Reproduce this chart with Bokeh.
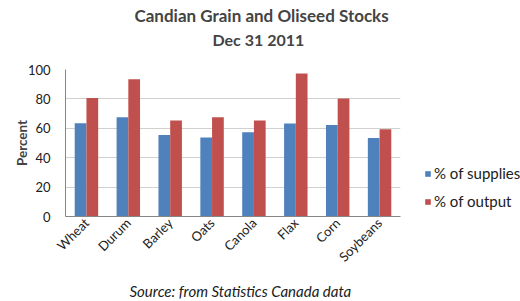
from bokeh.plotting import figure
from bokeh.models import Title, Legend, LegendItem, FactorRange
from bokeh.transform import dodge
from bokeh.embed import file_html
from bokeh.resources import INLINE
from math import pi

categories = ["Wheat", "Durum", "Barley", "Oats", "Canola", "Flax", "Corn", "Soybeans"]
supplies = [63.5, 67.5, 55.5, 53.7, 57.3, 63.2, 62.3, 53.4]
output = [80.6, 93.4, 65.3, 67.6, 65.3, 97.3, 80.2, 59.3]
series_names = ["% of supplies", "% of output"]
y_ticks = [0, 20, 40, 60, 80, 100]

BLUE = "#4F81BD"
RED = "#C0504D"
FONT = "Lato"

p = figure(frame_width=335, frame_height=147, x_range=FactorRange(*categories, range_padding=0),
           y_range=(0, 100), output_backend="svg", toolbar_location=None,
           min_border_left=0, min_border_right=0, min_border_top=0, min_border_bottom=0)
p.outline_line_color = None
p.background_fill_color = "white"

src = dict(cat=categories, sup=supplies, out=output)
r1 = p.vbar(x=dodge("cat", -0.14, range=p.x_range), top="sup", width=0.28, source=src,
            fill_color=BLUE, line_color=None)
r2 = p.vbar(x=dodge("cat", 0.14, range=p.x_range), top="out", width=0.28, source=src,
            fill_color=RED, line_color=None)

# titles: p.title is outermost; "above" list items go from the plot outward
p.title.text = "Candian Grain and Oliseed Stocks"
p.title.text_font = FONT
p.title.text_font_size = "17px"
p.title.text_font_style = "bold"
p.title.align = "left"
p.title.offset = 69
p.title.standoff = 3.5
spacer = Title(text=" ", text_font=FONT, text_font_size="10px", standoff=6.7)
p.add_layout(spacer, "above")
t2 = Title(text="Dec 31 2011", text_font=FONT, text_font_size="16px",
           text_font_style="bold", align="left", offset=147, standoff=0)
p.add_layout(t2, "above")

src_title = Title(text="Source: from Statistics Canada data", text_font=FONT,
                  text_font_size="15px", text_font_style="italic", align="left",
                  offset=64, standoff=12, text_color="#202020")
p.add_layout(src_title, "below")

# axes
p.yaxis.ticker = y_ticks
p.yaxis.axis_label = "Percent"
p.yaxis.axis_label_text_font = FONT
p.yaxis.axis_label_text_font_size = "13.5px"
p.yaxis.axis_label_text_font_style = "bold"
p.yaxis.axis_label_standoff = -5
p.yaxis.major_label_text_font = FONT
p.yaxis.major_label_text_font_size = "13px"
p.yaxis.major_label_text_color = "#202020"
p.yaxis.axis_line_color = "#868686"
p.yaxis.major_tick_line_color = None
p.yaxis.minor_tick_line_color = None
p.yaxis.major_tick_out = 0
p.yaxis.major_tick_in = 0
p.yaxis.major_label_standoff = 15

# left spacer so the axis title sits a little in from the edge
left_spacer = Title(text=" ", text_font=FONT, text_font_size="5px", standoff=2)
p.add_layout(left_spacer, "left")

p.xaxis.major_label_orientation = pi / 4
p.xaxis.major_label_text_font = FONT
p.xaxis.major_label_text_font_size = "13px"
p.xaxis.major_label_text_color = "#202020"
p.xaxis.axis_line_color = "#868686"
p.xaxis.major_tick_line_color = None
p.xaxis.minor_tick_line_color = None
p.xaxis.major_tick_out = 0
p.xaxis.major_tick_in = 0
p.xaxis.major_label_standoff = 4

p.xgrid.grid_line_color = None
p.ygrid.grid_line_color = "#D0D0D0"

legend = Legend(items=[LegendItem(label=series_names[0], renderers=[r1]),
                       LegendItem(label=series_names[1], renderers=[r2])],
                location=(24, 6), orientation="vertical")
legend.border_line_color = None
legend.background_fill_alpha = 0
legend.padding = 0
legend.margin = 0
legend.spacing = 10
legend.glyph_width = 7
legend.glyph_height = 7
legend.label_height = 14
legend.label_standoff = 3
legend.label_text_font = FONT
legend.label_text_font_size = "15px"
legend.label_text_color = "#202020"
p.add_layout(legend, "right")

open("out.html", "w").write(file_html(p, INLINE))
